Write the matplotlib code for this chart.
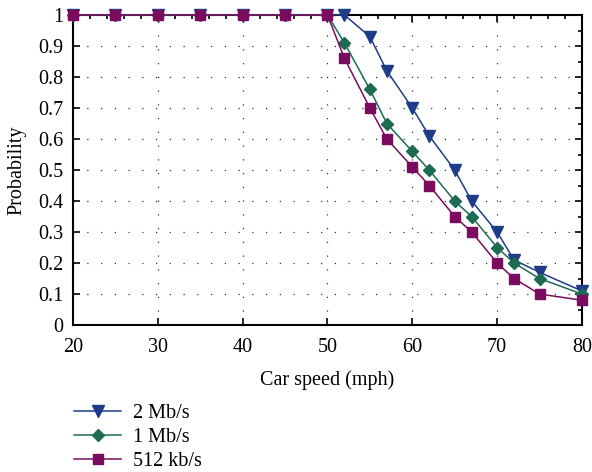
import matplotlib.pyplot as plt
from matplotlib.ticker import MultipleLocator, FuncFormatter

plt.rcParams['font.family'] = ['Liberation Serif', 'DejaVu Serif']

speed = [20, 25, 30, 35, 40, 45, 50, 52, 55, 57, 60, 62, 65, 67, 70, 72, 75, 80]
p_2mb = [1, 1, 1, 1, 1, 1, 1, 1.0, 0.93, 0.82, 0.70, 0.61, 0.50, 0.40, 0.30, 0.21, 0.17, 0.11]
p_1mb = [1, 1, 1, 1, 1, 1, 1, 0.91, 0.76, 0.65, 0.56, 0.50, 0.40, 0.35, 0.25, 0.20, 0.15, 0.10]
p_512kb = [1, 1, 1, 1, 1, 1, 1, 0.86, 0.70, 0.60, 0.51, 0.45, 0.35, 0.30, 0.20, 0.15, 0.10, 0.08]

fig = plt.figure(figsize=(5.92, 4.72), dpi=100)
ax = fig.add_axes([0.1233, 0.3114, 0.8597, 0.6568])

ax.plot(speed, p_2mb, color='#1f3c88', marker='v', markersize=8, lw=1.1, label='2 Mb/s', clip_on=False, zorder=3)
ax.plot(speed, p_1mb, color='#1d6b52', marker='D', markersize=6, lw=1.1, label='1 Mb/s', clip_on=False, zorder=4)
ax.plot(speed, p_512kb, color='#7b0b5e', marker='s', markersize=7, lw=1.1, label='512 kb/s', clip_on=False, zorder=5)

ax.set_xlim(20, 80)
ax.set_ylim(0, 1)
ax.xaxis.set_major_locator(MultipleLocator(10))
ax.xaxis.set_minor_locator(MultipleLocator(2))
ax.yaxis.set_major_locator(MultipleLocator(0.1))
ax.yaxis.set_minor_locator(MultipleLocator(0.05))
ax.yaxis.set_major_formatter(FuncFormatter(lambda v, _: '%g' % round(v, 2)))

ax.tick_params(which='both', direction='in', top=True, right=True, labelsize=14.5, width=1.2)
ax.tick_params(which='major', length=5)
ax.tick_params(which='minor', length=3, left=False, bottom=False)
ax.tick_params(axis='x', which='major', pad=9)
ax.tick_params(axis='y', which='major', pad=7)
for s in ax.spines.values():
    s.set_linewidth(1.5)

ax.grid(True, which='major', color='#333333', linestyle=(0, (1, 10)), linewidth=0.9)

ax.set_xlabel('Car speed (mph)', fontsize=14.5, labelpad=10)
ax.set_ylabel('Probability', fontsize=14.5, labelpad=8)

fig.legend(loc='upper left', bbox_to_anchor=(0.112, 0.162), frameon=False, fontsize=14.5,
           handlelength=2.3, handletextpad=0.6, labelspacing=0.25, borderaxespad=0)

fig.savefig('out.png', dpi=100)
